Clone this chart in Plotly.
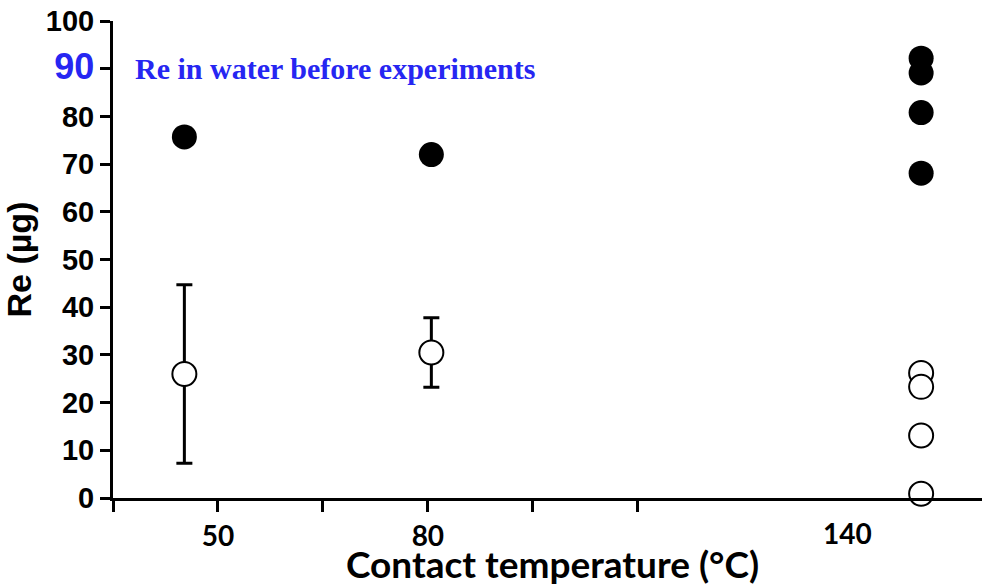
import plotly.graph_objects as go

# Data
after_x = [45.2, 80.5, 150.5, 150.5, 150.5, 150.5]
after_y = [75.7, 72.0, 92.2, 89.1, 80.8, 68.1]

water_x = [45.2, 80.5, 150.5, 150.5, 150.5, 150.5]
water_y = [26.0, 30.5, 26.2, 23.3, 13.1, 0.9]
water_err = [18.7, 7.3, 0, 0, 0, 0]

y_ticks = [0, 10, 20, 30, 40, 50, 60, 70, 80, 90, 100]
x_ticks = [35, 50, 65, 80, 95, 110]
x_ticktext = ["", "50", "", "80", "", ""]
extra_x_label = 140

BLUE = "#2626F2"

y_ticktext = [
    ("<span style='font-size:36px;color:%s'>%d</span>" % (BLUE, v)) if v == 90 else str(v)
    for v in y_ticks
]

fig = go.Figure()

fig.add_trace(go.Scatter(
    x=after_x, y=after_y, mode="markers",
    marker=dict(size=25, color="black", line=dict(width=0)),
    showlegend=False, cliponaxis=False, hoverinfo="skip",
))

fig.add_trace(go.Scatter(
    x=water_x, y=water_y, mode="markers",
    marker=dict(size=24, color="white", line=dict(width=2, color="black")),
    error_y=dict(type="data", array=water_err, visible=True,
                 color="black", thickness=3, width=8),
    showlegend=False, cliponaxis=False, hoverinfo="skip",
))

fig.add_annotation(
    x=37.9, y=90, xref="x", yref="y", xanchor="left", yanchor="middle",
    text="<b>Re in water before experiments</b>", showarrow=False,
    font=dict(family="Liberation Serif", size=30, color=BLUE),
)

fig.add_annotation(
    x=extra_x_label, y=0, xref="x", yref="paper", xanchor="center", yanchor="top",
    yshift=-16, text="<b>%d</b>" % extra_x_label, showarrow=False,
    font=dict(family="Lato", size=28, color="black"),
)

# x-axis title placed as an annotation for precise positioning
fig.add_annotation(
    x=0.506, y=0, xref="paper", yref="paper", xanchor="center", yanchor="middle",
    yshift=-65, text="<b>Contact temperature (°C)</b>", showarrow=False,
    font=dict(family="Lato", size=37, color="black"),
)

fig.update_layout(
    width=982, height=585,
    margin=dict(l=113, r=0, t=21, b=87),
    plot_bgcolor="white", paper_bgcolor="white",
    xaxis=dict(
        range=[35, 159.2], tickmode="array", tickvals=x_ticks, ticktext=x_ticktext,
        ticks="outside", ticklen=11, tickwidth=3, tickcolor="black",
        showline=True, linewidth=3, linecolor="black", showgrid=False, zeroline=False,
        automargin=False,
        tickfont=dict(family="Lato", size=28, color="black", weight="bold"),
    ),
    yaxis=dict(
        range=[0, 100], tickmode="array", tickvals=y_ticks, ticktext=y_ticktext,
        ticks="outside", ticklen=10, tickwidth=3, tickcolor="black",
        showline=True, linewidth=3, linecolor="black", showgrid=False, zeroline=False,
        automargin=False,
        tickfont=dict(family="Liberation Sans", size=29, color="black", weight="bold"),
        title=dict(text="<b>Re (µg)</b>", standoff=4,
                   font=dict(family="Liberation Sans", size=34, color="black")),
    ),
)

fig.write_html("out.html", post_script="document.body.style.margin='0';",
               config={"displayModeBar": False})
